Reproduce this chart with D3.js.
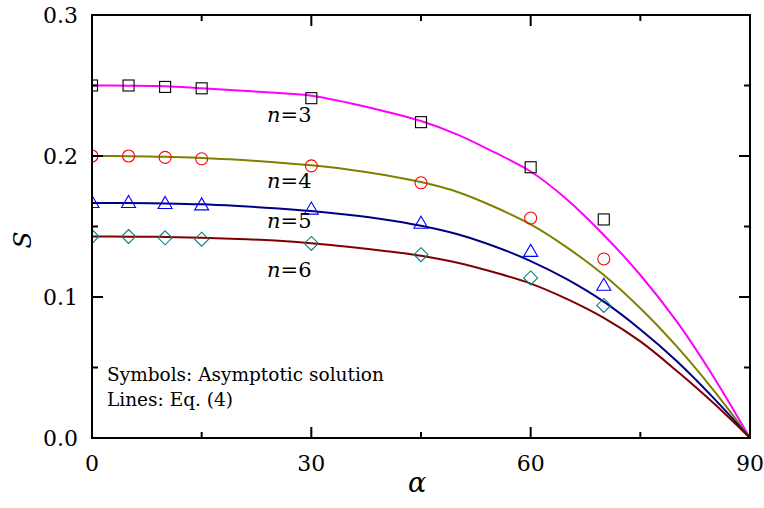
<!DOCTYPE html>
<html>
<head>
<meta charset="utf-8">
<script src="https://cdn.jsdelivr.net/npm/d3@7"></script>
<style>
  body { margin: 0; background: #fff; }
</style>
</head>
<body>
<svg id="chart" width="764" height="508"></svg>
<script>
// angles where the Eq. (4) curves were read
var alphaLine = [0, 5, 10, 15, 20, 25, 30, 35, 40, 45, 50, 55, 60, 65, 70, 75, 80, 85, 90]
var line3 = [0.25, 0.2499, 0.2495, 0.248, 0.2465, 0.2448, 0.2428, 0.2378, 0.2318, 0.2248, 0.2152, 0.2027, 0.189, 0.169, 0.144, 0.1156, 0.0825, 0.0435, 0]
var line4 = [0.2, 0.1999, 0.1995, 0.1986, 0.1973, 0.1955, 0.1934, 0.1905, 0.1866, 0.1815, 0.1745, 0.164, 0.1515, 0.135, 0.1156, 0.092, 0.0648, 0.034, 0]
var line5 = [0.1667, 0.1666, 0.1663, 0.1657, 0.1645, 0.163, 0.161, 0.1583, 0.155, 0.1505, 0.1445, 0.136, 0.1255, 0.1125, 0.0967, 0.077, 0.0545, 0.0285, 0]
var line6 = [0.1429, 0.1428, 0.1426, 0.142, 0.1412, 0.14, 0.1382, 0.1357, 0.1327, 0.1292, 0.1243, 0.1175, 0.1095, 0.0985, 0.0852, 0.0685, 0.0475, 0.0248, 0]

// asymptotic solution symbols
var alphaSym = [0, 5, 10, 15, 30, 45, 60, 70]
var sym3 = [0.25, 0.25, 0.249, 0.248, 0.241, 0.224, 0.192, 0.155]
var sym4 = [0.2, 0.2, 0.199, 0.198, 0.193, 0.181, 0.156, 0.127]
var sym5 = [0.1667, 0.1667, 0.166, 0.165, 0.162, 0.152, 0.132, 0.108]
var sym6 = [0.1429, 0.1429, 0.142, 0.141, 0.138, 0.13, 0.1135, 0.094]

var nLabels = ["3", "4", "5", "6"]
var xTicks = [0, 30, 60, 90]
var xMinor = [15, 45, 75]
var yTicks = [0, 0.1, 0.2, 0.3]
var yMinor = [0.05, 0.15, 0.25]

// Liberation Serif is not picked up here, DejaVu Serif is
var serif = "DejaVu Serif"
var svg = d3.select("#chart")
var padL = 92, padR = 750, padT = 15, padB = 438

var x = d3.scaleLinear().domain([0, 90]).range([padL, padR])
var y = d3.scaleLinear().domain([0, 0.3]).range([padB, padT])

svg.append("defs").append("clipPath").attr("id", "plotclip")
    .append("rect")
    .attr("x", padL).attr("y", padT)
    .attr("width", padR - padL).attr("height", padB - padT)

var series = [
    {line: line3, sym: sym3, lineColor: "#ff00ff", symColor: "#000000", shape: "square", labelY: 122},
    {line: line4, sym: sym4, lineColor: "#808000", symColor: "#ff0000", shape: "circle", labelY: 188},
    {line: line5, sym: sym5, lineColor: "#000080", symColor: "#0000ff", shape: "triangle", labelY: 228},
    {line: line6, sym: sym6, lineColor: "#800000", symColor: "#008080", shape: "diamond", labelY: 277}
]

var plot = svg.append("g").attr("clip-path", "url(#plotclip)")

var lineGen = d3.line()
    .x(function(d) { return x(d[0]) })
    .y(function(d) { return y(d[1]) })
    .curve(d3.curveCatmullRom.alpha(0.5))

series.forEach(function(s) {
    plot.append("path")
        .datum(alphaLine.map(function(a, i) { return [a, s.line[i]] }))
        .attr("d", lineGen)
        .attr("fill", "none")
        .attr("stroke", s.lineColor)
        .attr("stroke-width", 2)
})

function drawSymbol(g, shape, cx, cy, color) {
    var el
    if (shape == "square") {
        el = g.append("rect").attr("x", cx - 5.5).attr("y", cy - 5.5)
            .attr("width", 11).attr("height", 11)
    } else if (shape == "circle") {
        el = g.append("circle").attr("cx", cx).attr("cy", cy).attr("r", 6)
    } else if (shape == "triangle") {
        el = g.append("path")
            .attr("d", "M" + cx + "," + (cy - 7.5) + "L" + (cx + 7) + "," + (cy + 4.5) + "L" + (cx - 7) + "," + (cy + 4.5) + "Z")
    } else {
        el = g.append("path")
            .attr("d", "M" + cx + "," + (cy - 7) + "L" + (cx + 7) + "," + cy + "L" + cx + "," + (cy + 7) + "L" + (cx - 7) + "," + cy + "Z")
    }
    el.attr("fill", "none").attr("stroke", color).attr("stroke-width", 1.1)
}

series.forEach(function(s) {
    alphaSym.forEach(function(a, i) {
        drawSymbol(plot, s.shape, x(a), y(s.sym[i]), s.symColor)
    })
})

// frame
svg.append("rect")
    .attr("x", padL).attr("y", padT)
    .attr("width", padR - padL).attr("height", padB - padT)
    .attr("fill", "none").attr("stroke", "#000").attr("stroke-width", 2)

// ticks on all four sides, pointing inward
var ticks = svg.append("g").attr("stroke", "#000").attr("stroke-width", 2)
function xTick(v, len) {
    ticks.append("line").attr("x1", x(v)).attr("x2", x(v)).attr("y1", padB).attr("y2", padB - len)
    ticks.append("line").attr("x1", x(v)).attr("x2", x(v)).attr("y1", padT).attr("y2", padT + len)
}
function yTick(v, len) {
    ticks.append("line").attr("x1", padL).attr("x2", padL + len).attr("y1", y(v)).attr("y2", y(v))
    ticks.append("line").attr("x1", padR).attr("x2", padR - len).attr("y1", y(v)).attr("y2", y(v))
}
xTicks.forEach(function(v) { xTick(v, 11) })
xMinor.forEach(function(v) { xTick(v, 6) })
yTicks.forEach(function(v) { yTick(v, 11) })
yMinor.forEach(function(v) { yTick(v, 6) })

// tick labels
svg.selectAll(".xlab").data(xTicks).enter().append("text")
    .attr("x", function(d) { return x(d) })
    .attr("y", 471)
    .attr("text-anchor", "middle")
    .attr("font-family", serif)
    .attr("font-size", 22)
    .text(function(d) { return d })

svg.selectAll(".ylab").data(yTicks).enter().append("text")
    .attr("x", 78)
    .attr("y", function(d) { return y(d) + 8 })
    .attr("text-anchor", "end")
    .attr("font-family", serif)
    .attr("font-size", 22)
    .text(function(d) { return d3.format(".1f")(d) })

// axis titles
svg.append("text")
    .attr("x", 417).attr("y", 492)
    .attr("text-anchor", "middle")
    .attr("font-family", serif)
    .attr("font-size", 27).attr("font-style", "italic")
    .text("α")

svg.append("text")
    .attr("transform", "translate(31,240) rotate(-90)")
    .attr("text-anchor", "middle")
    .attr("font-family", serif)
    .attr("font-size", 25).attr("font-style", "italic")
    .text("S")

// n= labels
series.forEach(function(s, i) {
    var t = svg.append("text").attr("x", 267).attr("y", s.labelY)
        .attr("font-family", serif).attr("font-size", 21)
    t.append("tspan").attr("font-style", "italic").text("n")
    t.append("tspan").text("=" + nLabels[i])
})

// notes
svg.append("text").attr("x", 107).attr("y", 381)
    .attr("font-family", serif).attr("font-size", 18.5)
    .text("Symbols: Asymptotic solution")
svg.append("text").attr("x", 107).attr("y", 406)
    .attr("font-family", serif).attr("font-size", 18.5)
    .text("Lines: Eq. (4)")
</script>
</body>
</html>
